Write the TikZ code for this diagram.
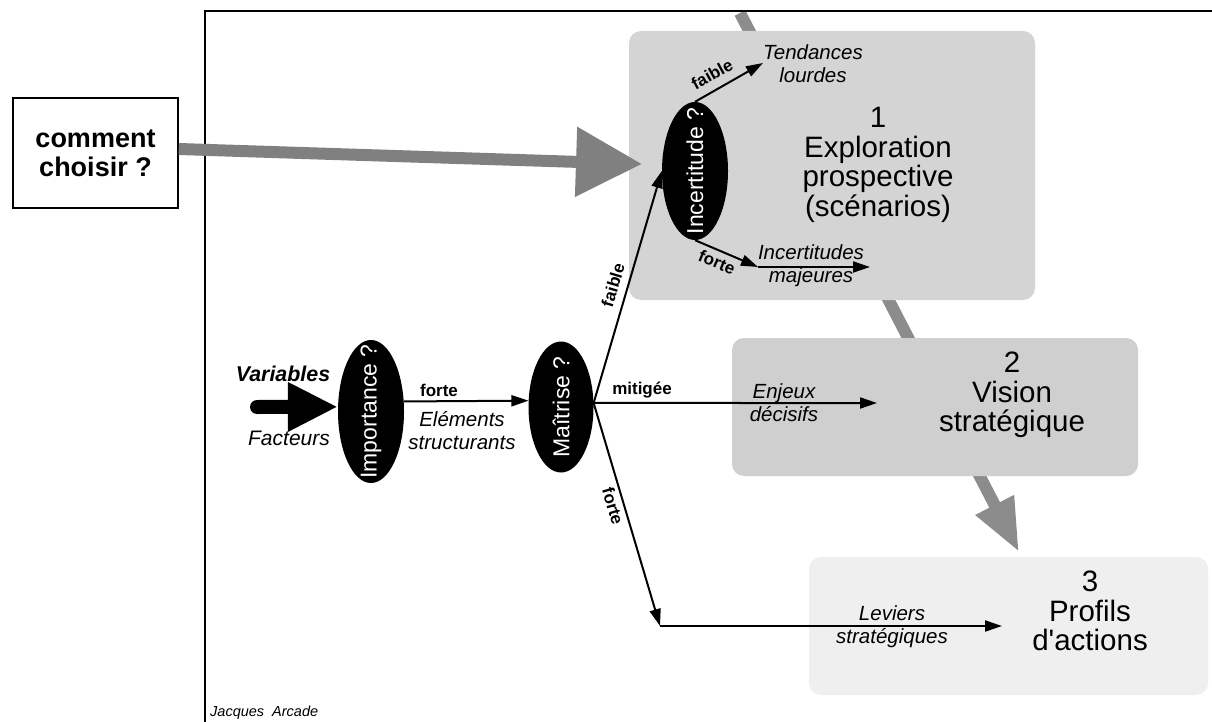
\documentclass[tikz,border=0pt]{standalone}
\usepackage{fontspec}
\setmainfont{Liberation Sans}
\usepackage{graphicx}
\usetikzlibrary{shapes.geometric,arrows.meta}
\definecolor{boxa}{HTML}{D4D4D4}
\definecolor{boxb}{HTML}{CFCFCF}
\definecolor{boxc}{HTML}{EFEFEF}
\definecolor{garrow}{HTML}{808080}
\definecolor{gdiag}{HTML}{8C8C8C}
\begin{document}
\begin{tikzpicture}[x=1pt,y=-1pt,
  ell/.style={ellipse,fill=black,inner sep=0pt,text=white,font=\fontsize{23}{23}\selectfont},
  panel/.style={rectangle,rounded corners=12pt,inner sep=0pt},
  big/.style={font=\fontsize{29.5}{29.5}\selectfont,align=center,inner sep=0pt},
  lab/.style={font=\fontsize{20.5}{23}\selectfont\itshape,align=center,inner sep=0pt},
  blab/.style={font=\fontsize{17}{17}\selectfont\bfseries,inner sep=0pt},
  conn/.style={line width=2pt,-{Triangle[length=17pt,width=11pt]}},
  frameline/.style={line width=2.2pt,line cap=rect},
]
\useasboundingbox (0,0) rectangle (1212,722);
\fill[white] (0,0) rectangle (1212,722);

% diagonal gray arrow (behind the panels)
\coordinate (dstart) at (740,13);
\coordinate (dtip) at (1019,552);
\draw[gdiag,line width=12pt,-{Triangle[length=53pt,width=40pt]}] (dstart) -- (dtip);

% panels
\node[panel,fill=boxa,minimum width=406,minimum height=269] (p1) at (832,165.5) {};
\node[panel,fill=boxb,minimum width=406,minimum height=138] (p2) at (935,407) {};
\node[panel,fill=boxc,minimum width=399,minimum height=138] (p3) at (1008.5,626) {};

% frame
\draw[frameline] (205,722) -- (205,11) -- (1212,11);

% panel titles
\node[big] (t1) at (878,165) {1\\Exploration\\prospective\\(scénarios)};
\node[big] (t2) at (1012,395) {2\\Vision\\stratégique};
\node[big] (t3) at (1090,611) {3\\Profils\\d\textquotesingle actions};

% comment choisir box
\node[draw=black,line width=1.5pt,minimum width=165,minimum height=110,inner sep=0pt,
      font=\fontsize{27}{29}\selectfont\bfseries,align=center] (choisir) at (95.5,153) {comment\\choisir ?};
\coordinate (gtip) at (642,164);
\draw[garrow,line width=12pt,-{Triangle[length=66pt,width=67pt]}] ([yshift=4pt]choisir.east) -- (gtip);

% ellipses
\node[ell,minimum width=66,minimum height=143] (imp) at (371,411.5) {\rotatebox{90}{\makebox[0pt]{Importance ?}}};
\node[ell,minimum width=65,minimum height=131] (mai) at (561,407) {\rotatebox{90}{\makebox[0pt]{Maîtrise ?}}};
\node[ell,minimum width=66,minimum height=138] (inc) at (695,171) {\rotatebox{90}{\makebox[0pt]{Incertitude ?}}};

% Variables arrow
\coordinate (cvar) at (257,407);
\draw[line width=14pt,line cap=round,-{Triangle[length=50pt,width=46pt]}] (cvar) -- (imp.172.2);
\node[inner sep=0pt,anchor=base,font=\fontsize{21.4}{23}\selectfont\bfseries\itshape] (var) at (283,381) {Variables};
\node[inner sep=0pt,anchor=base,font=\fontsize{21}{23}\selectfont\itshape] (fac) at (289,445) {Facteurs};

% Importance -> Maitrise
\draw[conn] (imp.17.8) -- (mai.169.5);
\node[blab,anchor=base] (lforte1) at (439,396) {forte};
\node[lab] (elem) at (462,431) {Eléments\\structurants};

% branches from Maitrise
\coordinate (cenj) at (877,403);
\coordinate (ccorner) at (660,626);
\coordinate (clev) at (1002,626);
\draw[conn] (mai.7) -- (inc.west);
\draw[conn] (mai.7) -- (cenj);
\draw[conn] (mai.7) -- (ccorner);
\draw[conn] (ccorner) -- (clev);
\node[blab,rotate=73.4] (lfaible1) at (613,285) {faible};
\node[blab,anchor=base] (lmit) at (642,394) {mitigée};
\node[blab,rotate=-73.5] (lforte2) at (613,506) {forte};
\node[lab] (enj) at (784,402.5) {Enjeux\\décisifs};
\node[lab] (lev) at (892,626.6) {Leviers\\stratégiques};

% branches from Incertitude
\coordinate (ctend) at (763,63);
\coordinate (cinc) at (758,267);
\coordinate (cincend) at (870,267);
\draw[conn] (inc.north) -- (ctend);
\draw[conn] (inc.south) -- (cinc);
\draw[conn] (cinc) -- (cincend);
\node[blab,rotate=29] (lfaible2) at (712,74) {faible};
\node[blab,rotate=-23] (lforte3) at (717,262) {forte};
\node[lab] (tend) at (813,63.5) {Tendances\\lourdes};
\node[lab] (incmaj) at (811,265.6) {Incertitudes\\majeures};

% author
\node[inner sep=0pt,anchor=base west,font=\fontsize{14.5}{16}\selectfont\itshape] (auth) at (210,716) {Jacques\ \ Arcade};
\end{tikzpicture}
\end{document}
